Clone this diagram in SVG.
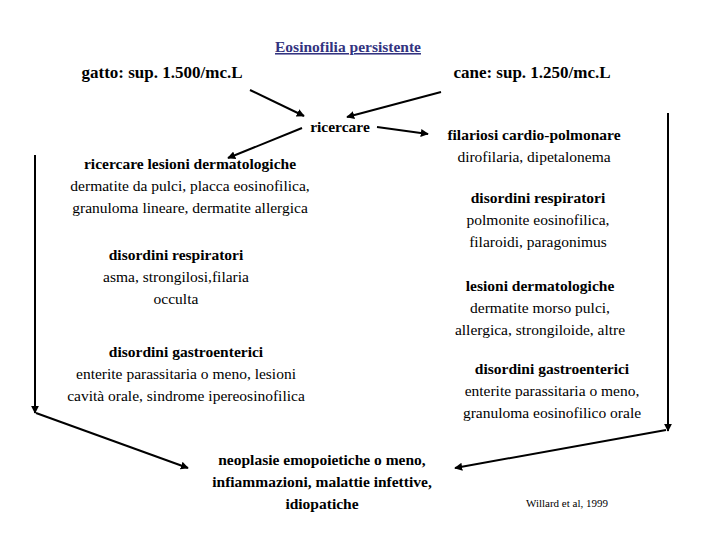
<svg xmlns="http://www.w3.org/2000/svg" width="720" height="540" viewBox="0 0 720 540">
<style>
text{font-size:15.5px;fill:#000;text-anchor:middle}
.b{font-weight:bold}
.e line{stroke:#000;stroke-width:2;marker-end:url(#a)}
</style>
<defs><marker id="a" viewBox="0 0 10 10" refX="9" refY="5" markerWidth="4" markerHeight="4" orient="auto"><path d="M0,0L10,5L0,10z"/></marker></defs>
<rect width="720" height="540" fill="#fff"/>
<g font-family="Liberation Serif, Times New Roman, DejaVu Serif, serif">
<g id="title"><text x="348" y="52" class="b" fill="#333380" text-decoration="underline" style="fill:#333380">Eosinofilia persistente</text></g>
<g id="gatto"><text x="162" y="78" class="b" style="font-size:17px">gatto: sup. 1.500/mc.L</text></g>
<g id="cane"><text x="532" y="78" class="b" style="font-size:17px">cane: sup. 1.250/mc.L</text></g>
<g id="ricercare"><text x="340" y="132" class="b">ricercare</text></g>
<g id="filariosi"><text x="534" y="140" class="b">filariosi cardio-polmonare</text><text x="534" y="162">dirofilaria, dipetalonema</text></g>
<g id="derm"><text x="190" y="169" class="b">ricercare lesioni dermatologiche</text><text x="190" y="191">dermatite da pulci, placca eosinofilica,</text><text x="190" y="213">granuloma lineare, dermatite allergica</text></g>
<g id="resp1"><text x="176" y="260" class="b">disordini respiratori</text><text x="176" y="282">asma, strongilosi,filaria</text><text x="176" y="304">occulta</text></g>
<g id="gastro1"><text x="186" y="357" class="b">disordini gastroenterici</text><text x="186" y="379">enterite parassitaria o meno, lesioni</text><text x="186" y="401">cavità orale, sindrome ipereosinofilica</text></g>
<g id="resp2"><text x="538" y="203" class="b">disordini respiratori</text><text x="538" y="225">polmonite eosinofilica,</text><text x="538" y="247">filaroidi, paragonimus</text></g>
<g id="derm2"><text x="540" y="291" class="b">lesioni dermatologiche</text><text x="540" y="313">dermatite morso pulci,</text><text x="540" y="335">allergica, strongiloide, altre</text></g>
<g id="gastro2"><text x="552" y="374" class="b">disordini gastroenterici</text><text x="552" y="396">enterite parassitaria o meno,</text><text x="552" y="418">granuloma eosinofilico orale</text></g>
<g id="neo"><text x="322" y="465" class="b">neoplasie emopoietiche o meno,</text><text x="322" y="487" class="b">infiammazioni, malattie infettive,</text><text x="322" y="509" class="b">idiopatiche</text></g>
<g id="ref"><text x="567" y="507" style="font-size:11px">Willard et al, 1999</text></g>
</g>
<g class="e" id="connectors">
<line x1="250" y1="90" x2="304" y2="116"/>
<line x1="441" y1="92" x2="347" y2="117"/>
<line x1="302" y1="128" x2="228" y2="158"/>
<line x1="377" y1="127" x2="428" y2="134"/>
<line x1="35" y1="155" x2="35" y2="413"/>
<line x1="36" y1="413" x2="188" y2="468"/>
<line x1="668" y1="113" x2="668" y2="431"/>
<line x1="666" y1="430" x2="455" y2="468"/>
</g>
</svg>
